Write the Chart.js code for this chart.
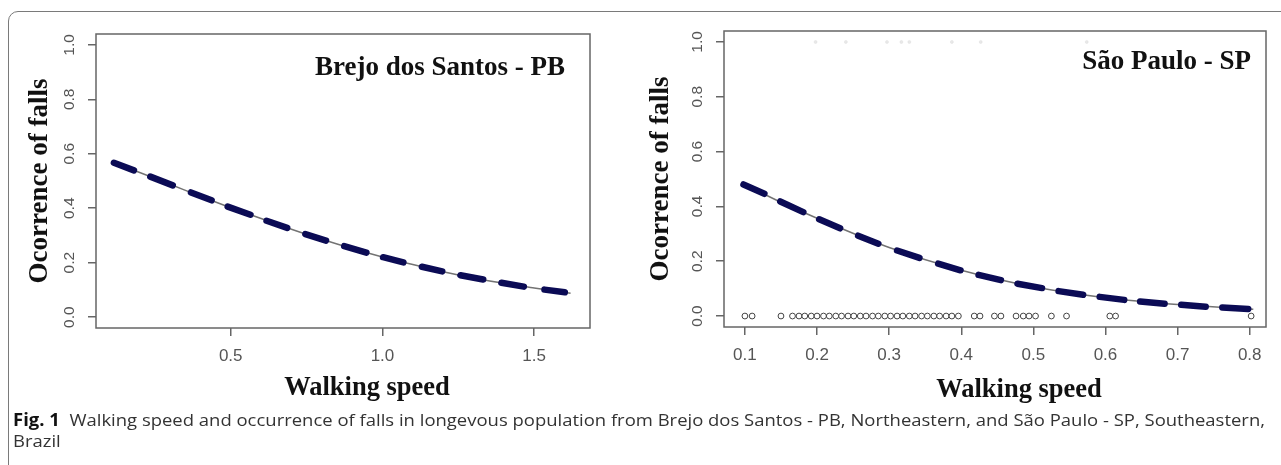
<!DOCTYPE html>
<html><head><meta charset="utf-8">
<script src="https://cdn.jsdelivr.net/npm/chart.js@4.4.1/dist/chart.umd.min.js"></script>
<style>
html,body{margin:0;padding:0;background:#fff;width:1281px;height:465px;overflow:hidden;}
#frame{position:absolute;left:8px;top:11px;width:1320px;height:520px;border:1px solid #7a7a7a;border-radius:10px;}
.wrap{position:absolute;top:0;height:410px;}
#w1{left:0;width:640px;}
#w2{left:640px;width:641px;}
#cap{position:absolute;left:13px;top:409px;font-family:"Liberation Sans Narrow","Open Sans",sans-serif;font-size:17px;line-height:21px;color:#333;white-space:nowrap;transform-origin:0 0;}
#cap b{color:#111;}
</style></head><body>
<div id="frame"></div>
<div class="wrap" id="w1"><canvas id="c1" width="640" height="410"></canvas></div>
<div class="wrap" id="w2"><canvas id="c2" width="641" height="410"></canvas></div>
<div id="cap"><div id="l1"><b>Fig. 1</b>&nbsp; Walking speed and occurrence of falls in longevous population from Brejo dos Santos - PB, Northeastern, and São Paulo - SP, Southeastern,</div><div>Brazil</div></div>
<script>
// ---- tick labels ----
const yTicks = [0, 0.2, 0.4, 0.6, 0.8, 1.0];
const brejoXTicks = [0.5, 1.0, 1.5];
const spXTicks = [0.1, 0.2, 0.3, 0.4, 0.5, 0.6, 0.7, 0.8];

// ---- Brejo dos Santos - PB ----
// fitted probability curve
const brejoCurveX = [0.115, 0.2, 0.3, 0.4, 0.5, 0.6, 0.7, 0.8, 0.9, 1.0, 1.1, 1.2, 1.3, 1.4, 1.5, 1.62];
const brejoCurveY = [0.567, 0.531, 0.488, 0.444, 0.402, 0.362, 0.323, 0.286, 0.252, 0.221, 0.193, 0.167, 0.144, 0.124, 0.107, 0.088];
// clusters of fitted values (start, end of each cluster)
const brejoFitX = [0.115, 0.181, 0.235, 0.309, 0.369, 0.437, 0.490, 0.565, 0.618, 0.686, 0.746, 0.814,
                   0.874, 0.947, 1.002, 1.069, 1.130, 1.197, 1.257, 1.332, 1.392, 1.466, 1.534, 1.601];
const brejoFitY = [0.567, 0.539, 0.516, 0.484, 0.458, 0.429, 0.406, 0.376, 0.354, 0.328, 0.305, 0.281,
                   0.261, 0.237, 0.220, 0.201, 0.185, 0.168, 0.154, 0.138, 0.126, 0.112, 0.101, 0.091];

// ---- São Paulo - SP ----
const spCurveX = [0.1, 0.15, 0.2, 0.3, 0.4, 0.5, 0.6, 0.7, 0.805];
const spCurveY = [0.480, 0.415, 0.357, 0.250, 0.167, 0.107, 0.067, 0.042, 0.025];
const spFitX = [0.098, 0.127, 0.149, 0.181, 0.203, 0.232, 0.257, 0.285, 0.311, 0.342, 0.368, 0.399, 0.424,
                0.455, 0.478, 0.512, 0.535, 0.569, 0.592, 0.626, 0.648, 0.682, 0.705, 0.739, 0.762, 0.798];
const spFitY = [0.480, 0.446, 0.418, 0.379, 0.353, 0.320, 0.293, 0.264, 0.239, 0.212, 0.191, 0.167, 0.150,
                0.131, 0.118, 0.102, 0.091, 0.078, 0.070, 0.059, 0.053, 0.045, 0.041, 0.034, 0.031, 0.026];
// observed non-fallers (y = 0)
const spNoFallX = [0.10, 0.11, 0.15, 0.166, 0.175, 0.183, 0.192, 0.200, 0.209, 0.217, 0.226, 0.234, 0.243, 0.251,
                   0.260, 0.268, 0.277, 0.285, 0.294, 0.302, 0.311, 0.319, 0.328, 0.336, 0.345, 0.353, 0.362,
                   0.370, 0.379, 0.387, 0.396, 0.418, 0.426, 0.446, 0.455, 0.476, 0.486, 0.494, 0.503, 0.525,
                   0.546, 0.606, 0.614, 0.802];
// observed fallers (y = 1), very faint in the original
const spFallX = [0.198, 0.240, 0.297, 0.317, 0.328, 0.387, 0.427, 0.574];

function pairs(xs, ys) { return xs.map((x, i) => ({x: x, y: ys[i]})); }
function dashes(xs, ys) {
  const out = [];
  for (let i = 0; i < xs.length; i += 2) {
    out.push({x: xs[i], y: ys[i]}, {x: xs[i + 1], y: ys[i + 1]});
    if (i + 2 < xs.length) out.push({x: (xs[i + 1] + xs[i + 2]) / 2, y: null});
  }
  return out;
}

const serif = '"Liberation Serif","Times New Roman",serif';
const boxPlugin = {
  id: 'box',
  afterDraw(chart, args, o) {
    const {ctx, chartArea: a} = chart;
    ctx.save();
    ctx.strokeStyle = '#666';
    ctx.lineWidth = 1.5;
    ctx.strokeRect(a.left, a.top, a.right - a.left, a.bottom - a.top);
    ctx.fillStyle = '#111';
    ctx.font = 'bold 27px ' + serif;
    ctx.textAlign = 'right';
    ctx.textBaseline = 'middle';
    ctx.fillText(o.panel, a.right - o.panelInset, o.panelY);
    ctx.font = 'bold 26.5px ' + serif;
    ctx.textAlign = 'center';
    ctx.fillText(o.xTitle, (a.left + a.right) / 2 + o.xShift, o.xTitleY);
    ctx.restore();
  }
};

function makeChart(id, cfg) {
  const sans = '"Liberation Sans", Arial, sans-serif';
  return new Chart(document.getElementById(id), {
    type: 'scatter',
    data: {datasets: cfg.datasets},
    plugins: [boxPlugin],
    options: {
      responsive: false, animation: false, devicePixelRatio: 1,
      layout: {padding: {left: 0, top: cfg.top, right: cfg.right, bottom: 0}},
      plugins: {legend: {display: false}, tooltip: {enabled: false},
        box: {panel: cfg.panel, panelInset: cfg.panelInset, panelY: cfg.panelY,
              xTitle: 'Walking speed', xShift: cfg.xShift, xTitleY: cfg.xTitleY}},
      scales: {
        x: {
          type: 'linear', min: cfg.xMin, max: cfg.xMax,
          afterBuildTicks: s => { s.ticks = cfg.xTicks.map(v => ({value: v})); },
          afterFit: s => { s.height = cfg.xHeight; },
          grid: {drawOnChartArea: false, drawTicks: true, tickLength: 8, color: '#666', lineWidth: 1.5},
          border: {display: false},
          ticks: {font: {family: sans, size: 17}, color: '#555', padding: 10, maxRotation: 0, autoSkip: false,
                  callback: v => Number(v).toFixed(1)}
        },
        y: {
          type: 'linear', min: -0.04, max: 1.04,
          afterBuildTicks: s => { s.ticks = yTicks.map(v => ({value: v})); },
          afterFit: s => { s.width = cfg.yWidth; },
          grid: {drawOnChartArea: false, drawTicks: true, tickLength: 8, color: '#666', lineWidth: 1.5},
          border: {display: false},
          ticks: {font: {family: sans, size: 15.5}, color: '#555', padding: 8, minRotation: 90, maxRotation: 90,
                  crossAlign: 'center', autoSkip: false, callback: v => Number(v).toFixed(1)},
          title: {display: true, text: 'Ocorrence of falls', color: '#111',
                  font: {family: serif, weight: 'bold', size: 27},
                  padding: {top: cfg.yTitlePad, bottom: 0}}
        }
      }
    }
  });
}

const dashStyle = {showLine: true, borderColor: '#0b0b55', borderWidth: 6.5, borderCapStyle: 'round',
                   pointRadius: 0, spanGaps: false};
const curveStyle = {showLine: true, borderColor: '#737373', borderWidth: 1.5, pointRadius: 0,
                    cubicInterpolationMode: 'monotone'};

makeChart('c1', {
  top: 34, right: 50, yWidth: 96, xHeight: 82, yTitlePad: 24,
  xMin: 0.056, xMax: 1.684, xTicks: brejoXTicks,
  panel: 'Brejo dos Santos - PB', panelInset: 25, panelY: 68, xShift: 24, xTitleY: 388,
  datasets: [
    Object.assign({label: 'Fitted', data: dashes(brejoFitX, brejoFitY)}, dashStyle),
    Object.assign({label: 'Curve', data: pairs(brejoCurveX, brejoCurveY)}, curveStyle)
  ]
});

makeChart('c2', {
  top: 31, right: 15, yWidth: 84, xHeight: 83, yTitlePad: 5,
  xMin: 0.071, xMax: 0.8226, xTicks: spXTicks,
  panel: 'São Paulo - SP', panelInset: 15, panelY: 62, xShift: 24, xTitleY: 390,
  datasets: [
    Object.assign({label: 'Fitted', data: dashes(spFitX, spFitY)}, dashStyle),
    Object.assign({label: 'Curve', data: pairs(spCurveX, spCurveY)}, curveStyle),
    {label: 'No fall', data: spNoFallX.map(x => ({x: x, y: 0})), pointRadius: 2.9, pointBorderWidth: 1,
     pointBorderColor: '#444', pointBackgroundColor: '#fff'},
    {label: 'Fall', data: spFallX.map(x => ({x: x, y: 1})), pointRadius: 1.5, pointBorderWidth: 0.5,
     pointBorderColor: '#dedede', pointBackgroundColor: '#e8e8e8'}
  ]
});

// fit the caption's first line to the figure width
const cap = document.getElementById('cap');
const w = document.getElementById('l1').getBoundingClientRect().width;
cap.style.transform = 'scaleX(' + (1252 / w) + ')';
</script>
</body></html>
